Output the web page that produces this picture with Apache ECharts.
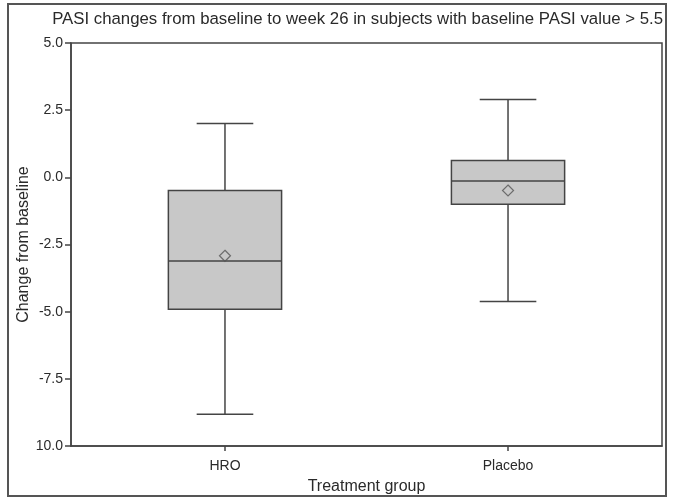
<!DOCTYPE html>
<html>
<head>
<meta charset="utf-8">
<script src="https://cdn.jsdelivr.net/npm/echarts@6/dist/echarts.min.js"></script>
<style>html,body{margin:0;padding:0;background:#fff}#c{width:674px;height:502px}</style>
</head>
<body>
<div id="c"></div>
<script>
var categories = ['HRO', 'Placebo'];
// [whiskerLow, Q1, median, Q3, whiskerHigh]
var boxValues = [
  [-8.82, -4.91, -3.11, -0.49, 2.0],
  [-4.62, -1.0, -0.14, 0.63, 2.9]
];
var meanValues = [-2.92, -0.49];
var yTickLabels = ['10.0', '-7.5', '-5.0', '-2.5', '0.0', '2.5', '5.0'];

var font = '"Liberation Sans", Arial, sans-serif';
var txt = '#2a2a2a';
var boxData = boxValues.map(function (b, i) { return [i + 1].concat(b); });
var meanData = meanValues.map(function (m, i) { return [i + 1, m]; });

var chart = echarts.init(document.getElementById('c'), null, {renderer: 'canvas'});
chart.setOption({
  animation: false,
  backgroundColor: '#fff',
  title: {
    text: 'PASI changes from baseline to week 26 in subjects with baseline PASI value > 5.5',
    right: 6, top: 6,
    textStyle: {fontFamily: font, fontSize: 16.8, fontWeight: 'normal', color: txt}
  },
  graphic: [{
    type: 'rect', shape: {x: 8, y: 4, width: 658, height: 492},
    style: {fill: 'none', stroke: '#555', lineWidth: 2}, silent: true
  }],
  grid: {left: 71, right: 12, top: 43, bottom: 56, show: true, borderColor: '#444', borderWidth: 1.5, backgroundColor: 'transparent'},
  xAxis: {
    type: 'value', min: 0.456, max: 2.544,
    name: 'Treatment group', nameLocation: 'middle', nameGap: 33, nameMoveOverlap: false,
    nameTextStyle: {fontFamily: font, fontSize: 16, color: txt},
    axisLine: {show: true, onZero: false, lineStyle: {color: '#444', width: 1.5}},
    axisTick: {show: true, customValues: [1, 2], length: 5, lineStyle: {color: '#444', width: 1.5}},
    axisLabel: {customValues: [1, 2], fontFamily: font, fontSize: 14, color: txt, margin: 13,
      formatter: function (v) { return categories[Math.round(v) - 1] || ''; }},
    splitLine: {show: false}
  },
  yAxis: {
    type: 'value', min: -10, max: 5, interval: 2.5,
    name: 'Change from baseline', nameLocation: 'middle', nameGap: 39, nameMoveOverlap: false,
    nameTextStyle: {fontFamily: font, fontSize: 16, color: txt},
    axisLine: {show: true, onZero: false, lineStyle: {color: '#444', width: 1.5}},
    axisTick: {show: true, length: 6, lineStyle: {color: '#444', width: 1.5}},
    axisLabel: {fontFamily: font, fontSize: 14, color: txt, margin: 8,
      formatter: function (v) { return yTickLabels[Math.round((v + 10) / 2.5)]; }},
    splitLine: {show: false}
  },
  series: [{
    type: 'custom',
    data: boxData,
    encode: {x: 0, y: [1, 2, 3, 4, 5]},
    renderItem: function (params, api) {
      var x = api.value(0);
      var lo = api.coord([x, api.value(1)]);
      var q1 = api.coord([x, api.value(2)]);
      var med = api.coord([x, api.value(3)]);
      var q3 = api.coord([x, api.value(4)]);
      var hi = api.coord([x, api.value(5)]);
      var bw = api.size([0.4, 0])[0];
      var cw = api.size([0.2, 0])[0];
      var cx = lo[0];
      var ls = {stroke: '#444', lineWidth: 1.5, fill: null};
      return {type: 'group', children: [
        {type: 'line', shape: {x1: cx, y1: hi[1], x2: cx, y2: q3[1]}, style: ls},
        {type: 'line', shape: {x1: cx, y1: q1[1], x2: cx, y2: lo[1]}, style: ls},
        {type: 'line', shape: {x1: cx - cw / 2, y1: hi[1], x2: cx + cw / 2, y2: hi[1]}, style: ls},
        {type: 'line', shape: {x1: cx - cw / 2, y1: lo[1], x2: cx + cw / 2, y2: lo[1]}, style: ls},
        {type: 'rect', shape: {x: cx - bw / 2, y: q3[1], width: bw, height: q1[1] - q3[1]},
          style: {fill: '#c8c8c8', stroke: '#444', lineWidth: 1.5}},
        {type: 'line', shape: {x1: cx - bw / 2, y1: med[1], x2: cx + bw / 2, y2: med[1]}, style: ls}
      ]};
    },
    z: 2
  }, {
    type: 'scatter',
    data: meanData,
    symbol: 'diamond', symbolSize: [11, 11],
    itemStyle: {color: 'transparent', borderColor: '#555', borderWidth: 1.2},
    z: 5
  }]
});
</script>
</body>
</html>
